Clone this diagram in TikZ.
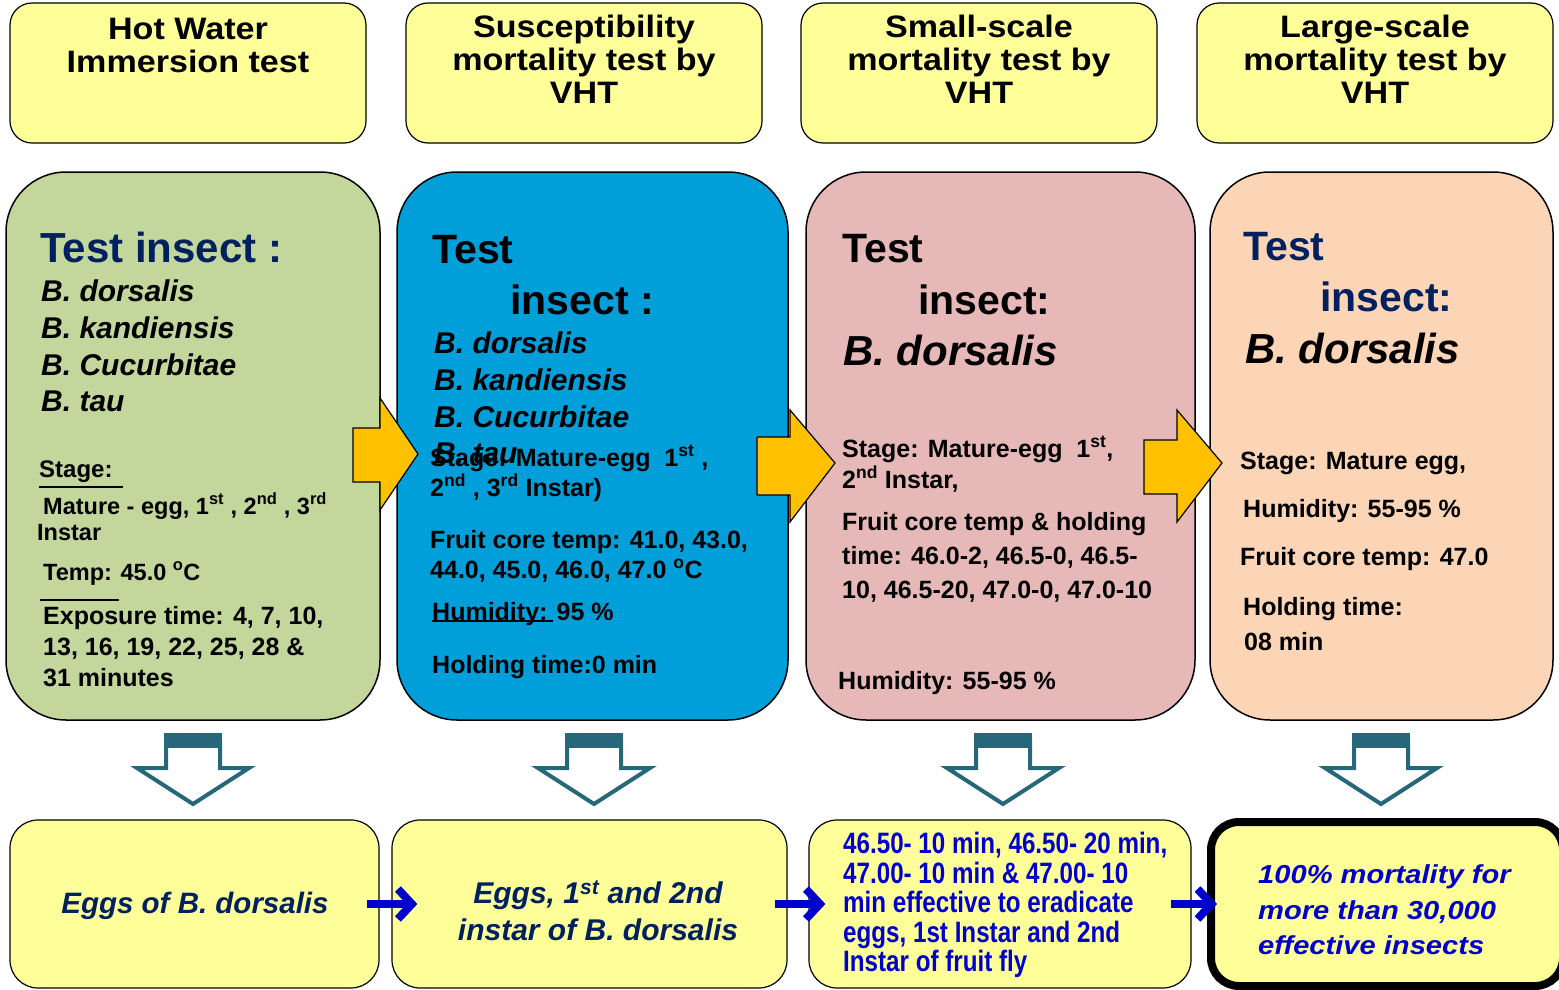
\documentclass[tikz,border=0pt]{standalone}
\usepackage{fontspec}
\setmainfont{Liberation Sans}
\newfontfamily\hdrfont{Liberation Sans}[FakeStretch=1.1]
\newfontfamily\narrowfont{Liberation Sans}[FakeStretch=0.82]
\newfontfamily\widefont{Liberation Sans}[FakeStretch=1.12]
\usetikzlibrary{arrows.meta}
\definecolor{hdryel}{HTML}{FFFF99}
\definecolor{boxgreen}{HTML}{C3D69B}
\definecolor{boxblue}{HTML}{009FDA}
\definecolor{boxpink}{HTML}{E6B9B8}
\definecolor{boxpeach}{HTML}{FBD5B5}
\definecolor{orangeA}{HTML}{FFC000}
\definecolor{tealA}{HTML}{26687A}
\definecolor{navy}{HTML}{002060}
\definecolor{blueT}{HTML}{0000CC}
\begin{document}
\begin{tikzpicture}[x=1pt,y=-1pt,
 hdrbox/.style={draw=black, line width=1.2pt, fill=hdryel, rounded corners=22pt, minimum width=356pt, minimum height=140pt, inner sep=0pt},
 bigbox/.style={draw=black, line width=1.5pt, rounded corners=60pt, minimum height=548pt, inner sep=0pt},
 botbox/.style={draw=black, line width=1.2pt, fill=hdryel, rounded corners=28pt, minimum height=168pt, inner sep=0pt},
 hdrtxt/.style={anchor=north, inner sep=0pt, align=center, font=\hdrfont\bfseries\fontsize{31}{33}\selectfont},
 txt/.style={anchor=base west, inner sep=0pt, font=\bfseries\fontsize{25}{25}\selectfont},
 smtxt/.style={anchor=base west, inner sep=0pt, font=\bfseries\fontsize{23.5}{23.5}\selectfont},
 ttl/.style={anchor=base west, inner sep=0pt, font=\bfseries\fontsize{41}{41}\selectfont},
 spec/.style={anchor=base west, inner sep=0pt, font=\bfseries\itshape\fontsize{30}{30}\selectfont},
 specbig/.style={anchor=base west, inner sep=0pt, font=\bfseries\itshape\fontsize{42}{42}\selectfont},
 orarrow/.style={draw=black, line width=1.2pt, fill=orangeA, line join=miter},
 downarrow/.style={draw=tealA, line width=4pt, fill=white, line join=miter},
 bluearr/.style={draw=blueT, line width=8pt, -{Straight Barb[length=14pt,width=30pt]}},
 uline/.style={draw=black, line width=1.8pt}]
\fill[white] (0,0) rectangle (1559,990);
\useasboundingbox (0,0) rectangle (1559,990);

% header boxes
\node[hdrbox] (h1) at (188,73) {};
\node[hdrbox] (h2) at (584,73) {};
\node[hdrbox] (h3) at (979,73) {};
\node[hdrbox] (h4) at (1375,73) {};
\node[hdrtxt] (h1t) at (188,18) {Hot Water\\Immersion test};
\node[hdrtxt] (h2t) at (584,15) {Susceptibility\\mortality test by\\VHT};
\node[hdrtxt] (h3t) at (979,15) {Small-scale\\mortality test by\\VHT};
\node[hdrtxt] (h4t) at (1375,15) {Large-scale\\mortality test by\\VHT};

% big boxes
\node[bigbox, fill=boxgreen, minimum width=374pt] (B1) at (193,446) {};
\node[bigbox, fill=boxblue, minimum width=391pt] (B2) at (592.5,446) {};
\node[bigbox, fill=boxpink, minimum width=389pt] (B3) at (1000.5,446) {};
\node[bigbox, fill=boxpeach, minimum width=343pt] (B4) at (1381.5,446) {};

% box 1 texts
\node[ttl, text=navy, font=\bfseries\fontsize{42}{42}\selectfont] (a1) at (40,262) {Test insect :};
\node[spec] (a2) at (41,301) {B. dorsalis};
\node[spec] (a3) at (41,338) {B. kandiensis};
\node[spec] (a4) at (41,375) {B. Cucurbitae};
\node[spec] (a5) at (41,411) {B. tau};
\node[txt, font=\bfseries\fontsize{24}{24}\selectfont] (a6) at (39,477) {Stage:};
\draw[uline] (39,487) -- (123,487);
\node[smtxt] (a7) at (43,514) {Mature - egg, 1\textsuperscript{st} , 2\textsuperscript{nd} , 3\textsuperscript{rd}};
\node[smtxt] (a8) at (37,540) {Instar};
\node[smtxt] (a9) at (43,580) {Temp: 45.0 \textsuperscript{o}C};
\draw[uline] (40,600) -- (119,600);
\node[txt] (a10) at (43,624) {Exposure time: 4, 7, 10,};
\node[txt] (a11) at (43,655) {13, 16, 19, 22, 25, 28 \&};
\node[txt] (a12) at (43,686) {31 minutes};

% box 2 texts
\node[ttl] (c1) at (432,263) {Test};
\node[ttl] (c2) at (510,314) {insect :};
\node[spec] (c3) at (434,353) {B. dorsalis};
\node[spec] (c4) at (434,390) {B. kandiensis};
\node[spec] (c5) at (434,427) {B. Cucurbitae};
\node[spec] (c6) at (434,463) {B. tau};
\node[txt] (c7) at (430,466) {Stage: Mature-egg\ \ 1\textsuperscript{st} ,};
\node[txt] (c8) at (430,496) {2\textsuperscript{nd} , 3\textsuperscript{rd} Instar)};
\node[txt] (c9) at (430,548) {Fruit core temp: 41.0, 43.0,};
\node[txt] (c10) at (430,578) {44.0, 45.0, 46.0, 47.0 \textsuperscript{o}C};
\node[txt] (c11) at (432,620) {Humidity: 95 \%};
\draw[uline] (432,621) -- (553,621);
\node[txt] (c12) at (432,673) {Holding time:0 min};

% box 3 texts
\node[ttl] (d1) at (842,262) {Test};
\node[ttl] (d2) at (918,314) {insect:};
\node[specbig] (d3) at (843,365) {B. dorsalis};
\node[txt] (d4) at (842,457) {Stage: Mature-egg\ \ 1\textsuperscript{st},};
\node[txt] (d5) at (842,488) {2\textsuperscript{nd} Instar,};
\node[txt] (d6) at (842,530) {Fruit core temp \& holding};
\node[txt] (d7) at (842,564) {time: 46.0-2, 46.5-0, 46.5-};
\node[txt] (d8) at (842,598) {10, 46.5-20, 47.0-0, 47.0-10};
\node[txt] (d9) at (838,689) {Humidity: 55-95 \%};

% box 4 texts
\node[ttl, text=navy] (e1) at (1243,260) {Test};
\node[ttl, text=navy] (e2) at (1320,311) {insect:};
\node[specbig] (e3) at (1245,363) {B. dorsalis};
\node[txt] (e4) at (1240,469) {Stage: Mature egg,};
\node[txt] (e5) at (1243,517) {Humidity: 55-95 \%};
\node[txt] (e6) at (1240,565) {Fruit core temp: 47.0};
\node[txt] (e7) at (1243,615) {Holding time:};
\node[txt] (e8) at (1244,650) {08 min};

% orange block arrows
\draw[orarrow] (353,428) -- (380,428) -- (380,398) -- (418,454) -- (380,510) -- (380,482) -- (353,482) -- cycle;
\draw[orarrow] (757,437) -- (790,437) -- (790,410) -- (835,463) -- (790,522) -- (790,495) -- (757,495) -- cycle;
\draw[orarrow] (1144,440) -- (1177,440) -- (1177,410) -- (1222,463) -- (1177,522) -- (1177,494) -- (1144,494) -- cycle;

% down arrows
\foreach \cx in {193,594,1003,1381}{
  \draw[downarrow] (\cx-27,740) -- (\cx+27,740) -- (\cx+27,768) -- (\cx+56,768) -- (\cx,804) -- (\cx-56,768) -- (\cx-27,768) -- cycle;
  \fill[tealA] (\cx-29,733) rectangle (\cx+29,748);
}

% bottom boxes
\node[botbox, minimum width=369pt] (b1) at (194.5,904) {};
\node[botbox, minimum width=395pt] (b2) at (589.5,904) {};
\node[botbox, minimum width=382pt] (b3) at (1000,904) {};
\node[botbox, minimum width=352pt, minimum height=164pt, line width=8pt] (b4) at (1387,904) {};

\node[inner sep=0pt, text=navy, font=\bfseries\itshape\fontsize{29.5}{37}\selectfont] (b1t) at (195,906) {Eggs of B. dorsalis};
\node[inner sep=0pt, text=navy, align=center, font=\bfseries\itshape\fontsize{30}{37}\selectfont] (b2t) at (598,911) {Eggs, 1\textsuperscript{st} and 2nd\\instar of B. dorsalis};
\node[anchor=west, inner sep=0pt, text=blueT, align=left, font=\narrowfont\bfseries\fontsize{29.5}{29.5}\selectfont] (b3t) at (843,905) {46.50- 10 min, 46.50- 20 min,\\47.00- 10 min \& 47.00- 10\\min effective to eradicate\\eggs, 1st Instar and 2nd\\Instar of fruit fly};
\node[anchor=west, inner sep=0pt, text=blueT, align=left, font=\widefont\bfseries\itshape\fontsize{26}{35.5}\selectfont] (b4t) at (1258,910) {100\% mortality for\\more than 30,000\\effective insects};

% blue connectors
\draw[bluearr] ([xshift=-13pt]b1.east) -- ([xshift=26pt]b2.west);
\draw[bluearr] ([xshift=-13pt]b2.east) -- ([xshift=17pt]b3.west);
\draw[bluearr] ([xshift=-21pt]b3.east) -- ([xshift=10pt]b4.west);
\end{tikzpicture}
\end{document}
